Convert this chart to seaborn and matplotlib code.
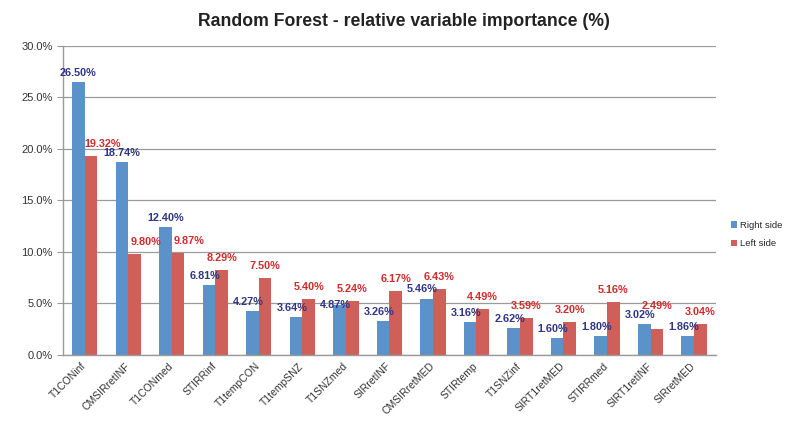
import matplotlib
matplotlib.use("Agg")
import matplotlib.pyplot as plt
import seaborn as sns
import pandas as pd
import numpy as np

# ===================== DATA =====================
variables = ["T1CONinf", "CMSIRretINF", "T1CONmed", "STIRRinf", "T1tempCON",
             "T1tempSNZ", "T1SNZmed", "SIRretINF", "CMSIRretMED", "STIRtemp",
             "T1SNZinf", "SIRT1retMED", "STIRRmed", "SIRT1retINF", "SIRretMED"]
right_side = [26.50, 18.74, 12.40, 6.81, 4.27, 3.64, 4.87, 3.26, 5.46, 3.16,
              2.62, 1.60, 1.80, 3.02, 1.86]
left_side = [19.32, 9.80, 9.87, 8.29, 7.50, 5.40, 5.24, 6.17, 6.43, 4.49,
             3.59, 3.20, 5.16, 2.49, 3.04]
sides = ["Right side", "Left side"]
y_ticks = [0, 5, 10, 15, 20, 25, 30]

df = pd.DataFrame({
    "variable": variables * 2,
    "importance": right_side + left_side,
    "side": [sides[0]] * len(variables) + [sides[1]] * len(variables),
})

BLUE, RED = "#5b92c9", "#d05f5a"
LBL_BLUE, LBL_RED = "#2e3584", "#d22a2a"

sns.set_style("white")
plt.rcParams["font.family"] = ["Liberation Sans", "DejaVu Sans"]

fig = plt.figure(figsize=(7.98, 4.26), dpi=100)
ax = fig.add_axes([0.079, 0.167, 0.818, 0.725])

sns.barplot(data=df, x="variable", y="importance", hue="side",
            palette=[BLUE, RED], width=0.58, saturation=1,
            edgecolor="none", ax=ax, legend=True)

# ===================== LABELS =====================
# placement mimics the original: labels dodge the neighbouring bar/label
blue_bars, red_bars = ax.containers[0], ax.containers[1]
for bb, rb in zip(blue_bars, red_bars):
    hb, hr = bb.get_height(), rb.get_height()
    xb = bb.get_x() + bb.get_width() / 2
    xr = rb.get_x() + rb.get_width() / 2

    dx_b = 0 if hb > hr + 2 else -3
    dy_b = -4 if 0 <= hr - hb < 0.5 else 3     # nearly equal bars -> drop blue label
    ax.annotate(f"{hb:.2f}%", (xb, hb), xytext=(dx_b, dy_b),
                textcoords="offset points", ha="center", va="bottom",
                fontsize=7.8, color=LBL_BLUE, fontweight="semibold")

    if hb > hr + 2:          # tall blue bar on the left -> push right
        anchor, dx_r, dy_r = hr, 8, 5
    elif hb > hr:            # blue label in the way -> push up
        anchor, dx_r, dy_r = hb, 0, 9
    else:
        anchor, dx_r, dy_r = hr, 0, 5
    ax.annotate(f"{hr:.2f}%", (xr, anchor), xytext=(dx_r, dy_r),
                textcoords="offset points", ha="center", va="bottom",
                fontsize=7.8, color=LBL_RED, fontweight="semibold")

ax.set_ylim(0, 30)
ax.set_yticks(y_ticks)
ax.set_yticklabels([f"{v:.1f}%" for v in y_ticks], fontsize=8, color="#333333")
ax.yaxis.grid(True, color="#9a9a9a", linewidth=0.9)
ax.set_axisbelow(True)

ax.set_xlim(-0.5, len(variables) - 0.5)
ax.set_xticks(np.arange(len(variables)))
ax.set_xticklabels(variables, rotation=45, ha="right", va="center",
                   rotation_mode="anchor", fontsize=7.5, color="#333333")
ax.tick_params(axis="x", length=0, pad=7)
ax.set_xticks(np.arange(len(variables) + 1) - 0.5, minor=True)
ax.tick_params(axis="x", which="minor", length=4, color="#9a9a9a", direction="out")
ax.tick_params(axis="y", length=4, color="#9a9a9a", direction="out", left=True)

for s in ["top", "right"]:
    ax.spines[s].set_visible(False)
for s in ["left", "bottom"]:
    ax.spines[s].set_color("#9a9a9a")
    ax.spines[s].set_linewidth(1.0)

ax.set_xlabel("")
ax.set_ylabel("")
fig.suptitle("Random Forest - relative variable importance (%)",
             x=0.506, y=0.97, fontsize=12.7, fontweight="bold", color="#222222")

leg = ax.legend(loc="center left", bbox_to_anchor=(1.01, 0.39), frameon=False,
                fontsize=6.8, handlelength=0.65, handleheight=0.65,
                handletextpad=0.35, labelspacing=1.0)

plt.savefig("out.png", dpi=100)
plt.close()
